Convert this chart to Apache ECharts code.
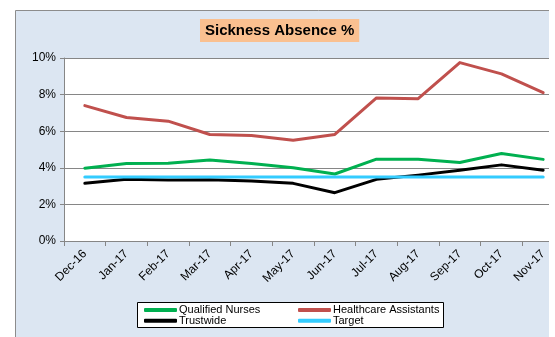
<!DOCTYPE html>
<html><head><meta charset="utf-8">
<script src="https://cdn.jsdelivr.net/npm/echarts@6/dist/echarts.min.js"></script>
<style>html,body{margin:0;padding:0;background:#fff;overflow:hidden;width:555px;height:337px;position:relative}#c{position:absolute;left:0;top:0;width:620px;height:337px}#mask{position:absolute;left:549px;top:0;width:100px;height:337px;background:#fff}</style>
</head><body><div id="c"></div><div id="mask"></div>
<script>
const categories = ['Dec-16','Jan-17','Feb-17','Mar-17','Apr-17','May-17','Jun-17','Jul-17','Aug-17','Sep-17','Oct-17','Nov-17'];
const qualifiedNurses = [3.98,4.24,4.25,4.42,4.24,4.00,3.66,4.47,4.47,4.29,4.78,4.46];
const healthcareAssistants = [7.40,6.75,6.55,5.82,5.77,5.51,5.82,7.82,7.78,9.75,9.13,8.11];
const trustwide = [3.15,3.37,3.33,3.35,3.28,3.15,2.64,3.37,3.60,3.87,4.16,3.87];
const target = [3.5,3.5,3.5,3.5,3.5,3.5,3.5,3.5,3.5,3.5,3.5,3.5];
const yTicks = [0,2,4,6,8,10];

const FONT = 'Liberation Sans, Arial, sans-serif';
const chart = echarts.init(document.getElementById('c'), null, {renderer:'canvas'});
const mk = (name, data, color) => ({
  name, type:'line', data, symbol:'none', smooth:false,
  lineStyle:{color, width:3, cap:'round', join:'round'}, itemStyle:{color},
  emphasis:{disabled:true}, z:3
});
const legendText = {fontFamily:FONT, fontSize:11, color:'#000', lineHeight:11, padding:[0,0,0,-3]};
chart.setOption({
  animation:false,
  textStyle:{fontFamily:FONT},
  graphic:[
    {type:'rect', z:-10, shape:{x:15.5,y:10.5,width:700,height:400},
     style:{fill:'#dce6f2', stroke:'#8c8c8c', lineWidth:1}},
    {type:'rect', z:10, shape:{x:137.5,y:302.5,width:306,height:25},
     style:{fill:'#fff', stroke:'#000', lineWidth:1}}
  ],
  title:{text:'Sickness Absence %', left:200, top:19, padding:[4,5,4,5],
    backgroundColor:'#fac090',
    textStyle:{fontFamily:FONT, fontSize:15, fontWeight:'bold', color:'#000', lineHeight:15}},
  legend:[
    {data:['Qualified Nurses','Trustwide'], orient:'vertical', left:144, top:304.5, padding:0,
     itemWidth:33, itemHeight:4, itemGap:-0.3, icon:'roundRect', z:20, textStyle:legendText},
    {data:['Healthcare Assistants','Target'], orient:'vertical', left:298, top:304.5, padding:0,
     itemWidth:33, itemHeight:4, itemGap:-0.3, icon:'roundRect', z:20, textStyle:legendText}
  ],
  grid:{left:64, top:58, width:500, height:183, show:true, backgroundColor:'#fff', borderWidth:0, containLabel:false},
  xAxis:{type:'category', data:categories, boundaryGap:true,
    axisLine:{lineStyle:{color:'#868686', width:1}},
    axisTick:{show:true, length:5, alignWithLabel:false, lineStyle:{color:'#868686'}},
    axisLabel:{rotate:45, margin:11, fontSize:12, color:'#000', fontFamily:FONT, interval:0},
    splitLine:{show:false}},
  yAxis:{type:'value', min:yTicks[0], max:yTicks[yTicks.length-1], interval:2,
    axisLine:{show:true, lineStyle:{color:'#868686', width:1}},
    axisTick:{show:true, length:4, inside:false, lineStyle:{color:'#868686'}},
    axisLabel:{margin:8, fontSize:12, color:'#000', fontFamily:FONT, formatter:v=>v+'%'},
    splitLine:{show:true, lineStyle:{color:'#868686', width:1}}},
  series:[
    mk('Qualified Nurses', qualifiedNurses, '#00b050'),
    mk('Healthcare Assistants', healthcareAssistants, '#c0504d'),
    mk('Trustwide', trustwide, '#000000'),
    mk('Target', target, '#33ccff')
  ]
});
</script></body></html>
